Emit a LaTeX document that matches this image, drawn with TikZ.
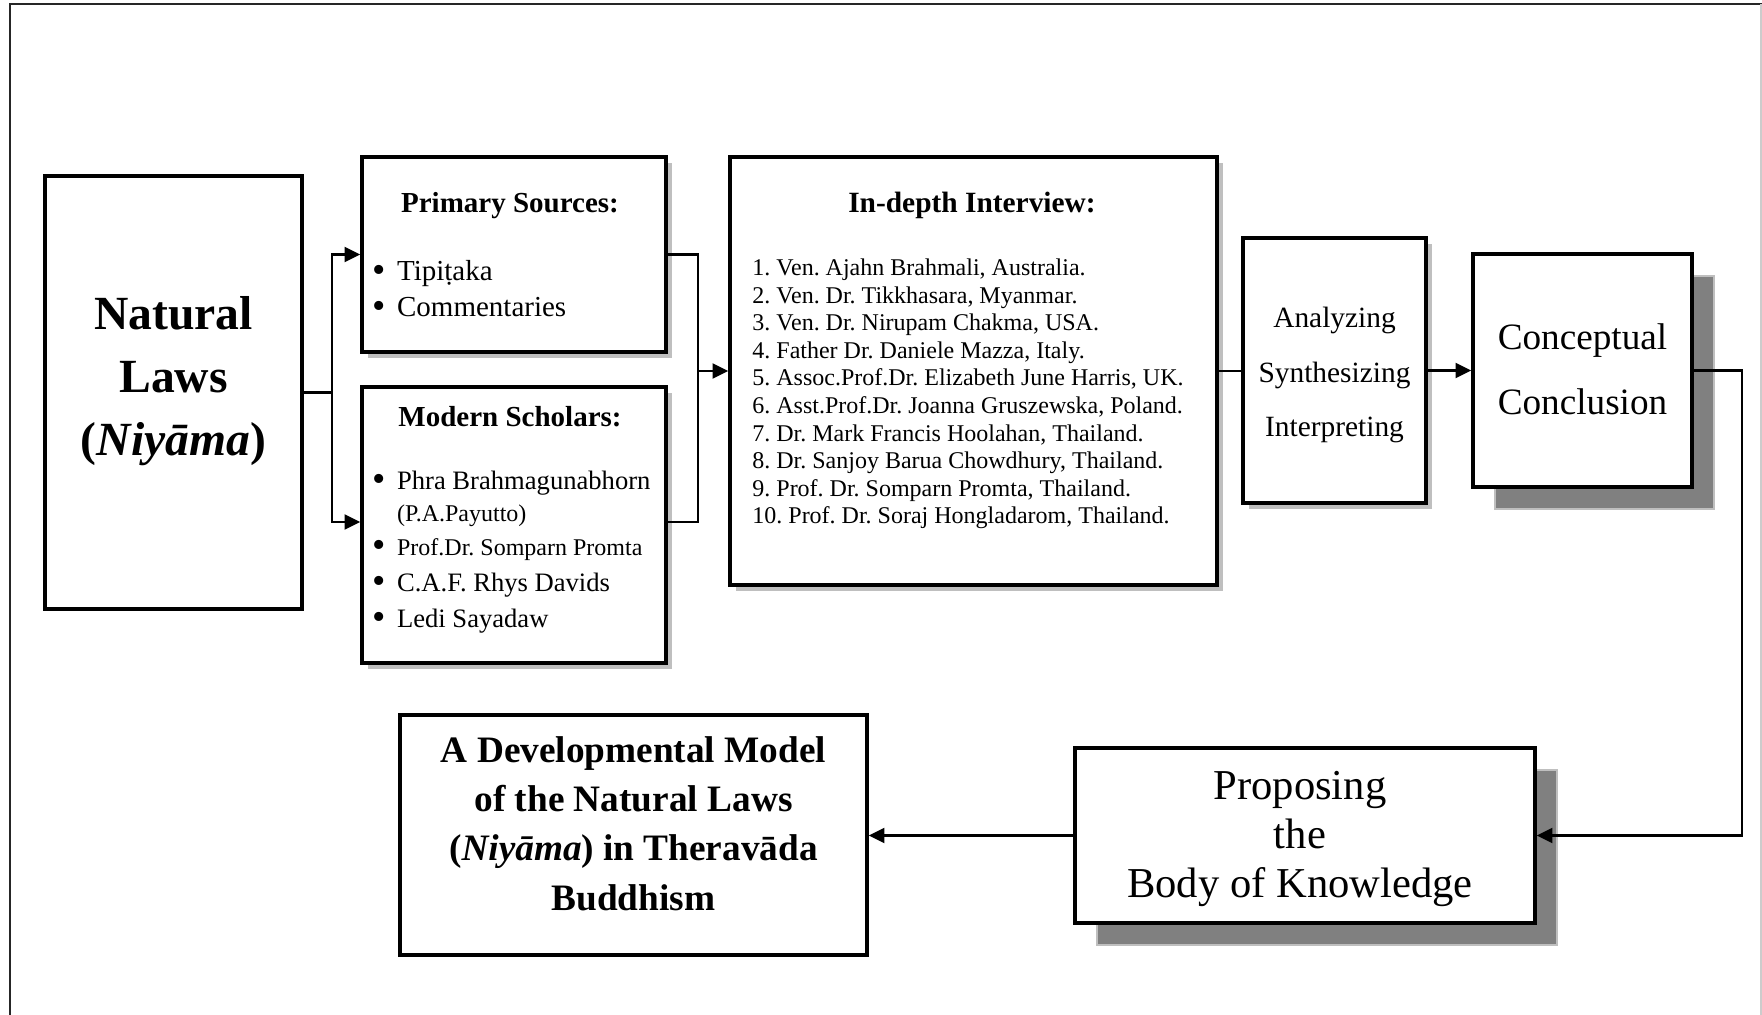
\documentclass[tikz,border=0pt]{standalone}
\usepackage{fontspec}
\setmainfont{Liberation Serif}
\usetikzlibrary{arrows.meta,shadows}
\newcommand{\bul}{\makebox[12.35pt][l]{\raisebox{-1.2pt}{\fontsize{19}{19}\selectfont•}}}
\begin{document}
\frenchspacing
\begin{tikzpicture}[x=0.5pt,y=-0.5pt,
  box/.style={draw=black, line width=1.8pt, fill=white, inner sep=0pt},
  lshadow/.style={drop shadow={shadow xshift=3pt, shadow yshift=-3pt, fill=black!25, opacity=1}},
  dshadow/.style={drop shadow={shadow xshift=11pt, shadow yshift=-11pt, fill=black!50, draw=black!25, line width=0.6pt, opacity=1}},
  conn/.style={line width=1.1pt},
  arr/.style={conn, -{Triangle[length=7.8pt,width=7.5pt]}},
  txt/.style={inner sep=0pt, align=center},
  item/.style={inner sep=0pt, anchor=west, text height=.7em, text depth=.22em},
  frame/.style={line width=1pt, draw=black!85}
]
\useasboundingbox (0,0) rectangle (1762,1015);
% outer frame
\draw[frame] (9.5,1015) -- (9.5,4.5) -- (1762,4.5);
\draw[line width=0.8pt, draw=black!20] (1761,4.5) -- (1761,1015);

% boxes
\node[box, minimum width=128.5pt, minimum height=216.5pt] (nl) at (173.5,392.5) {};
\node[box, lshadow, minimum width=152pt, minimum height=97.5pt] (ps) at (514,254.5) {};
\node[box, lshadow, minimum width=152pt, minimum height=138pt] (ms) at (514,525) {};
\node[box, lshadow, minimum width=243.5pt, minimum height=214pt] (iv) at (973.5,371) {};
\node[box, lshadow, minimum width=91.5pt, minimum height=132.5pt] (an) at (1334.5,370.5) {};
\node[box, dshadow, minimum width=109.5pt, minimum height=116.5pt] (cc) at (1582.5,370.5) {};
\node[box, dshadow, minimum width=230pt, minimum height=87.5pt] (pb) at (1305,835.5) {};
\node[box, minimum width=233.5pt, minimum height=120pt] (dm) at (633.5,835) {};

% texts
\node[txt, font=\fontsize{23.8}{31.5}\selectfont\bfseries] (nlt) at (173.5,381.5) {Natural\\Laws\\(\textit{Niyāma})};

\node[txt, font=\fontsize{14.5}{17}\selectfont\bfseries] (pst) at (510,206) {Primary Sources:};
\node[item, font=\fontsize{14.5}{17}\selectfont] (ps1) at (372,275.5) {\bul Tipiṭaka};
\node[item, font=\fontsize{14.5}{17}\selectfont] (ps2) at (372,311.5) {\bul Commentaries};

\node[txt, font=\fontsize{14.5}{17}\selectfont\bfseries] (mst) at (510,417) {Modern Scholars:};
\node[item, font=\fontsize{13.3}{16}\selectfont] (ms1) at (372,484.5) {\bul Phra Brahmagunabhorn};
\node[item, font=\fontsize{12}{14}\selectfont] (ms2) at (396.7,516.5) {(P.A.Payutto)};
\node[item, font=\fontsize{12}{14}\selectfont] (ms3) at (372,550.5) {\bul Prof.Dr. Somparn Promta};
\node[item, font=\fontsize{13.3}{16}\selectfont] (ms4) at (372,586.5) {\bul C.A.F. Rhys Davids};
\node[item, font=\fontsize{13.3}{16}\selectfont] (ms5) at (372,622.5) {\bul Ledi Sayadaw};

\node[txt, font=\fontsize{14.7}{17}\selectfont\bfseries] (ivt) at (972,205) {In-depth Interview:};
\node[inner sep=0pt, anchor=west, align=left, font=\fontsize{12}{13.8}\selectfont] (ivl) at (752,394) {%
1. Ven. Ajahn Brahmali, Australia.\\
2. Ven. Dr. Tikkhasara, Myanmar.\\
3. Ven. Dr. Nirupam Chakma, USA.\\
4. Father Dr. Daniele Mazza, Italy.\\
5. Assoc.Prof.Dr. Elizabeth June Harris, UK.\\
6. Asst.Prof.Dr. Joanna Gruszewska, Poland.\\
7. Dr. Mark Francis Hoolahan, Thailand.\\
8. Dr. Sanjoy Barua Chowdhury, Thailand.\\
9. Prof. Dr. Somparn Promta, Thailand.\\
10. Prof. Dr. Soraj Hongladarom, Thailand.};

\node[txt, font=\fontsize{14.7}{27.25}\selectfont] (ant) at (1334.5,375) {Analyzing\\Synthesizing\\Interpreting};
\node[txt, font=\fontsize{18.6}{32.5}\selectfont] (cct) at (1582.5,369.5) {Conceptual\\Conclusion};
\node[txt, font=\fontsize{21.3}{24.3}\selectfont] (pbt) at (1300,839) {Proposing\\the\\Body of Knowledge};
\node[txt, font=\fontsize{18.65}{24.7}\selectfont\bfseries] (dmt) at (633.5,823.5) {A Developmental Model\\of the Natural Laws\\(\textit{Niyāma}) in Theravāda\\Buddhism};

% connectors
\coordinate (j1) at (332,392.5);
\draw[conn] (nl.east) -- (j1);
\draw[arr] (j1) |- (ps.west);
\draw[arr] (j1) |- ([yshift=1.5pt]ms.west);
\coordinate (j2) at (698,371);
\draw[conn] (ps.east) -| (j2) |- ([yshift=1.5pt]ms.east);
\draw[arr] (j2) -- (iv.west);
\draw[conn] (iv.east) -- (iv.east -| an.west);
\draw[arr] (an.east) -- (an.east -| cc.west);
\coordinate (c3) at (1742,835.5);
\draw[arr] (cc.east) -| (c3) -- (pb.east);
\draw[arr] (pb.west) -- (pb.west -| dm.east);
\end{tikzpicture}
\end{document}
